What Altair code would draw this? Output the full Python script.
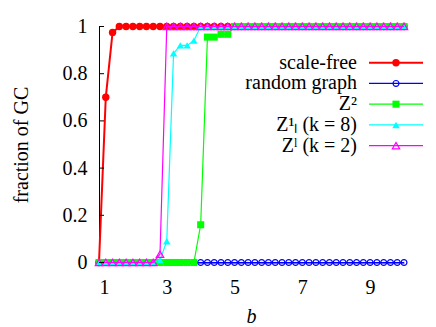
import altair as alt
import pandas as pd

# x grid (b)
b = [1.0, 1.2, 1.4, 1.6, 1.8, 2.0, 2.2, 2.4, 2.6, 2.8,
     3.0, 3.2, 3.4, 3.6, 3.8, 4.0, 4.2, 4.4, 4.6, 4.8,
     5.0, 5.2, 5.4, 5.6, 5.8, 6.0, 6.2, 6.4, 6.6, 6.8,
     7.0, 7.2, 7.4, 7.6, 7.8, 8.0, 8.2, 8.4, 8.6, 8.8,
     9.0, 9.2, 9.4, 9.6, 9.8, 10.0]

scale_free = [0.0, 0.70, 0.975, 1, 1, 1, 1, 1, 1, 1,
              1, 1, 1, 1, 1, 1, 1, 1, 1, 1,
              1, 1, 1, 1, 1, 1, 1, 1, 1, 1,
              1, 1, 1, 1, 1, 1, 1, 1, 1, 1,
              1, 1, 1, 1, 1, 1]
random_graph = [0, 0, 0, 0, 0, 0, 0, 0, 0, 0,
                0, 0, 0, 0, 0, 0, 0, 0, 0, 0,
                0, 0, 0, 0, 0, 0, 0, 0, 0, 0,
                0, 0, 0, 0, 0, 0, 0, 0, 0, 0,
                0, 0, 0, 0, 0, 0]
z2 = [0, 0, 0, 0, 0, 0, 0, 0, 0, 0,
      0, 0, 0, 0, 0, 0.16, 0.955, 0.955, 0.967, 0.967,
      1, 1, 1, 1, 1, 1, 1, 1, 1, 1,
      1, 1, 1, 1, 1, 1, 1, 1, 1, 1,
      1, 1, 1, 1, 1, 1]
z1_k8 = [0, 0, 0, 0, 0, 0, 0, 0, 0, 0.01,
         0.09, 0.886, 0.92, 0.92, 0.94, 1, 1, 1, 1, 1,
         1, 1, 1, 1, 1, 1, 1, 1, 1, 1,
         1, 1, 1, 1, 1, 1, 1, 1, 1, 1,
         1, 1, 1, 1, 1, 1]
zl_k2 = [0, 0, 0, 0, 0, 0, 0, 0, 0, 0.035,
         1, 1, 1, 1, 1, 1, 1, 1, 1, 1,
         1, 1, 1, 1, 1, 1, 1, 1, 1, 1,
         1, 1, 1, 1, 1, 1, 1, 1, 1, 1,
         1, 1, 1, 1, 1, 1]

series_names = ["scale-free", "random graph", "Z²", "Z¹ₗ (k = 8)", "Zˡ (k = 2)"]
series_values = [scale_free, random_graph, z2, z1_k8, zl_k2]
series_colors = ["#ff0000", "#0000ff", "#00ff00", "#00ffff", "#ff00ff"]
series_shapes = ["circle", "circle", "square", "triangle-up", "triangle-up"]
series_filled = [True, False, True, True, False]
series_sizes = [55, 35, 50, 55, 55]
series_lw = [2.0, 1.2, 1.2, 1.2, 1.2]

x_ticks = [1, 3, 5, 7, 9]
y_ticks = [0, 0.2, 0.4, 0.6, 0.8, 1]

FONT = "Liberation Serif"

rows = []
for name, vals in zip(series_names, series_values):
    for xv, yv in zip(b, vals):
        rows.append({"series": name, "b": xv, "value": yv})
df = pd.DataFrame(rows)

xscale = alt.Scale(domain=[1, 10], nice=False, zero=False)
yscale = alt.Scale(domain=[0, 1], nice=False, zero=False)

x_axis = alt.Axis(values=x_ticks, tickSize=0, labelPadding=30.5, labelBaseline="alphabetic",
                  labelFont=FONT, labelFontSize=20, labelColor="black",
                  domainColor="black", domainWidth=1, grid=False,
                  title="b", titleFont=FONT, titleFontSize=20, titleFontStyle="italic",
                  titleFontWeight="normal", titleColor="black",
                  titleBaseline="alphabetic", titleX=152, titleY=59.5)
y_axis = alt.Axis(values=y_ticks, format="~g", tickSize=0, labelPadding=12,
                  labelFont=FONT, labelFontSize=20, labelColor="black",
                  domainColor="black", domainWidth=1, grid=False,
                  title="fraction of GC", titleFont=FONT, titleFontSize=20,
                  titleFontWeight="normal", titleColor="black", titleAngle=270,
                  titleBaseline="alphabetic", titleX=-72, titleY=118)

xe = alt.X("b:Q", scale=xscale, axis=x_axis)
ye = alt.Y("value:Q", scale=yscale, axis=y_axis)

base = alt.Chart(df)
data_layers = []
for i, name in enumerate(series_names):
    sub = base.transform_filter(alt.datum.series == name)
    line = sub.mark_line(color=series_colors[i], strokeWidth=series_lw[i]).encode(x=xe, y=ye)
    if series_filled[i]:
        pts = sub.mark_point(shape=series_shapes[i], filled=True, size=series_sizes[i],
                             color=series_colors[i], opacity=1).encode(x=xe, y=ye)
    else:
        pts = sub.mark_point(shape=series_shapes[i], filled=False, size=series_sizes[i],
                             color=series_colors[i], strokeWidth=1.2, opacity=1).encode(x=xe, y=ye)
    data_layers += [line, pts]

# inward y ticks
tick_df = pd.DataFrame({"value": y_ticks})
yticks_layer = alt.Chart(tick_df).mark_rule(color="black", strokeWidth=1).encode(
    y=ye, x=alt.value(0), x2=alt.value(5))

data_chart = alt.layer(*data_layers, yticks_layer)

# legend
leg_df = pd.DataFrame({"series": series_names, "row": list(range(len(series_names)))})
leg_y = alt.Scale(domain=[0, 4], range=[36.2, 119.2])
leg_layers = []
lbase = alt.Chart(leg_df)
lye = alt.Y("row:Q", scale=leg_y, axis=None)
for i, name in enumerate(series_names):
    sub = lbase.transform_filter(alt.datum.series == name)
    leg_layers.append(sub.mark_rule(color=series_colors[i], strokeWidth=series_lw[i]).encode(
        y=lye, x=alt.value(270), x2=alt.value(324)))
    if series_filled[i]:
        leg_layers.append(sub.mark_point(shape=series_shapes[i], filled=True, size=series_sizes[i],
                                         color=series_colors[i], opacity=1).encode(
            y=lye, x=alt.value(297)))
    else:
        leg_layers.append(sub.mark_point(shape=series_shapes[i], filled=False, size=series_sizes[i],
                                         color=series_colors[i], strokeWidth=1.2, opacity=1).encode(
            y=lye, x=alt.value(297)))
leg_text = lbase.mark_text(align="right", baseline="middle", font=FONT, fontSize=20,
                           color="black").encode(y=lye, x=alt.value(258), text="series:N")
legend_chart = alt.layer(*leg_layers, leg_text)

chart = alt.layer(data_chart, legend_chart).resolve_scale(y="independent").properties(
    width=305, height=236, autosize="none",
    padding={"left": 91, "top": 18.5, "right": 24, "bottom": 64.5},
    background="white",
).configure_view(stroke=None)

chart.save("out.html", embed_options={"renderer": "svg", "actions": False})
